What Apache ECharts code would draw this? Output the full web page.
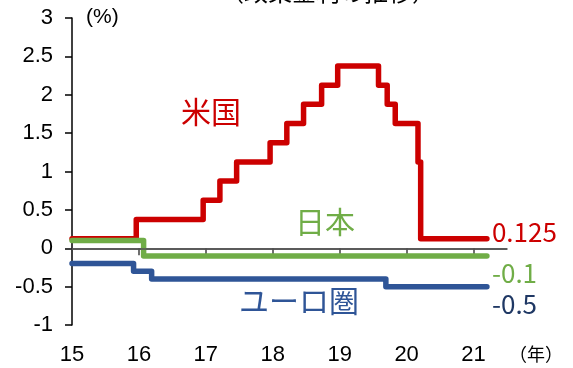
<!DOCTYPE html>
<html>
<head>
<meta charset="utf-8">
<script src="https://cdn.jsdelivr.net/npm/echarts@6/dist/echarts.min.js"></script>
<style>html,body{margin:0;padding:0;background:#fff;}#c{width:573px;height:368px;}</style>
</head>
<body>
<div id="c"></div>
<script>
// x ticks (year, 2-digit)
const xTicks = [15, 16, 17, 18, 19, 20, 21];
// US (米国) policy rate, midpoint of target range: change dates (decimal year) and values
const usDates = [15.0, 15.96, 16.96, 17.21, 17.46, 17.96, 18.21, 18.46, 18.73, 18.97, 19.58, 19.71, 19.83, 20.17, 20.21, 21.2];
const usRates = [0.125, 0.375, 0.625, 0.875, 1.125, 1.375, 1.625, 1.875, 2.125, 2.375, 2.125, 1.875, 1.625, 1.125, 0.125, 0.125];
// Japan (日本)
const jpDates = [15.0, 16.07, 21.2];
const jpRates = [0.1, -0.1, -0.1];
// Euro area (ユーロ圏)
const euDates = [15.0, 15.92, 16.19, 19.69, 21.2];
const euRates = [-0.2, -0.3, -0.4, -0.5, -0.5];
const seriesNames = ['米国', '日本', 'ユーロ圏'];

const zip = (a, b) => a.map((x, i) => [x, b[i]]);
const cjk = "'Noto Sans CJK JP', sans-serif";
const lat = "'Liberation Sans', Arial, sans-serif";

const chart = echarts.init(document.getElementById('c'), null, {renderer: 'canvas'});
function lineSeries(name, data, color, labelColor, offset, extra) {
  return Object.assign({
    name: name,
    type: 'line',
    step: 'end',
    data: data,
    symbol: 'none',
    lineStyle: {color: color, width: 5.5, cap: 'round', join: 'round'},
    endLabel: {
      show: true,
      formatter: p => String(p.value[1]),
      color: labelColor,
      fontSize: 26,
      fontFamily: cjk,
      distance: 5,
      offset: offset
    }
  }, extra || {});
}
const option = {
  animation: false,
  title: {
    text: '（政策金利の推移）',
    left: 215,
    top: -25,
    textStyle: {fontSize: 24, fontWeight: 'normal', fontFamily: cjk, color: '#000'}
  },
  grid: {left: 72, right: 66, top: 18, bottom: 43},
  xAxis: {
    type: 'value', min: 15, max: 21.5, interval: 1,
    axisLine: {lineStyle: {color: '#404040', width: 1.5}},
    axisTick: {show: true, customValues: xTicks, length: 7, lineStyle: {color: '#404040', width: 1.5}},
    axisLabel: {customValues: xTicks, fontSize: 22, color: '#000', margin: 19, fontFamily: lat},
    splitLine: {show: false}
  },
  yAxis: {
    type: 'value', min: -1, max: 3, interval: 0.5,
    axisLine: {show: true, lineStyle: {color: '#000', width: 1.5}},
    axisTick: {show: true, length: 7, lineStyle: {color: '#000', width: 1.5}},
    axisLabel: {fontSize: 22, color: '#000', margin: 19, fontFamily: lat},
    splitLine: {show: false}
  },
  series: [
    lineSeries(seriesNames[0], zip(usDates, usRates), '#cc0000', '#cc0000', [0, -7], {
      markLine: {
        silent: true, symbol: 'none', label: {show: false},
        lineStyle: {color: '#555', width: 1.5, type: 'solid'},
        data: [{yAxis: 0}]
      }
    }),
    lineSeries(seriesNames[1], zip(jpDates, jpRates), '#70ad47', '#70ad47', [0, 17]),
    lineSeries(seriesNames[2], zip(euDates, euRates), '#2f5597', '#1f3864', [0, 17])
  ],
  graphic: [
    {type: 'text', left: 86, top: 7, style: {text: '(%)', fill: '#000', fontSize: 21, fontFamily: lat}},
    {type: 'text', left: 181, top: 97, style: {text: seriesNames[0], fill: '#cc0000', fontSize: 30, fontFamily: cjk}},
    {type: 'text', left: 295, top: 207, style: {text: seriesNames[1], fill: '#70ad47', fontSize: 30, fontFamily: cjk}},
    {type: 'text', left: 239, top: 286, style: {text: seriesNames[2], fill: '#2f5597', fontSize: 30, fontFamily: cjk}},
    {type: 'text', left: 509, top: 345, style: {text: '（年）', fill: '#000', fontSize: 18, fontFamily: cjk}}
  ]
};
chart.setOption(option);
</script>
</body>
</html>
